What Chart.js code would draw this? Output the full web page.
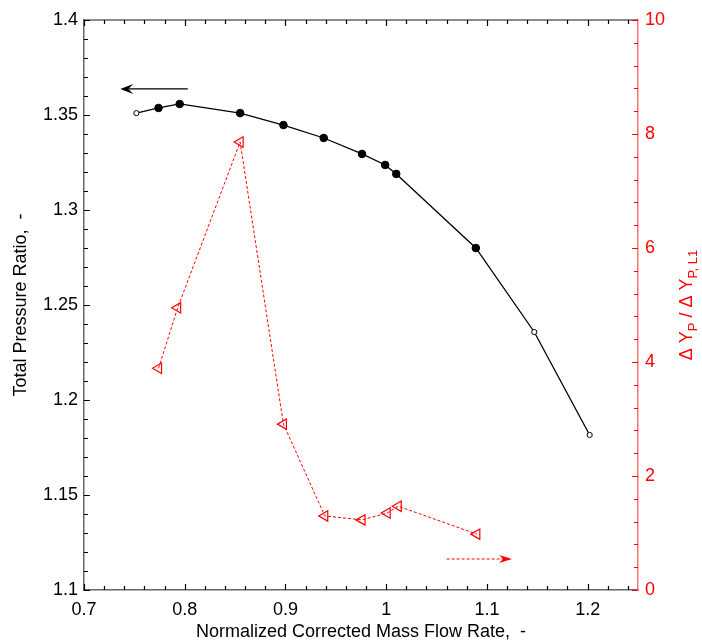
<!DOCTYPE html>
<html>
<head>
<meta charset="utf-8">
<script src="https://cdn.jsdelivr.net/npm/chart.js@4.4.0/dist/chart.umd.min.js"></script>
<style>
  html, body { margin: 0; padding: 0; background: #fff; }
  #wrap { position: relative; width: 702px; height: 643px; }
</style>
</head>
<body>
<div id="wrap"><canvas id="chart" width="702" height="643"></canvas></div>
<script>
// pressure ratio line (left axis)
const massFlow = [0.752, 0.774, 0.795, 0.855, 0.898, 0.938, 0.976, 0.999, 1.010, 1.089, 1.147, 1.202];
const pressureRatio = [1.351, 1.3537, 1.3558, 1.351, 1.3447, 1.3379, 1.3295, 1.3237, 1.319, 1.280, 1.2358, 1.1816];
const openMarker = [true, false, false, false, false, false, false, false, false, false, true, true];

// loss ratio line (right axis)
const lossFlow = [0.774, 0.793, 0.855, 0.898, 0.939, 0.976, 1.001, 1.012, 1.090];
const lossRatio = [3.89, 4.95, 7.86, 2.91, 1.30, 1.23, 1.35, 1.47, 0.98];

// axis ticks
const xTicks = [0.7, 0.8, 0.9, 1, 1.1, 1.2];
const yTicks = [1.1, 1.15, 1.2, 1.25, 1.3, 1.35, 1.4];
const y2Ticks = [0, 2, 4, 6, 8, 10];

// direction arrows, in data units
const leftArrow = { from: 0.803, to: 0.736, y: 1.3637 };
const rightArrow = { from: 1.060, to: 1.125, y: 0.544 };

const FONT = "'Liberation Sans', Arial, sans-serif";
const RED = '#ff0000';

const tickMarks = {
  id: 'tickMarks',
  afterDraw(chart) {
    const { ctx, chartArea: a, scales } = chart;
    const sx = scales.x, sy = scales.y, sy2 = scales.y2;
    ctx.save();

    // top frame line
    ctx.strokeStyle = '#666';
    ctx.lineWidth = 1.5;
    ctx.beginPath();
    ctx.moveTo(a.left, a.top);
    ctx.lineTo(a.right, a.top);
    ctx.stroke();

    // inward ticks, minor every fifth of a step
    ctx.lineWidth = 1.2;
    ctx.strokeStyle = '#000';
    ctx.beginPath();
    for (let i = 0; i <= 27; i++) {
      const px = Math.round(sx.getPixelForValue(0.7 + i * 0.02)) + 0.5;
      const len = i % 5 === 0 ? 6 : 4;
      ctx.moveTo(px, a.bottom);
      ctx.lineTo(px, a.bottom - len);
      ctx.moveTo(px, a.top);
      ctx.lineTo(px, a.top + len);
    }
    for (let i = 0; i <= 30; i++) {
      const py = Math.round(sy.getPixelForValue(1.1 + i * 0.01)) + 0.5;
      const len = i % 5 === 0 ? 6 : 4;
      ctx.moveTo(a.left, py);
      ctx.lineTo(a.left + len, py);
    }
    ctx.stroke();

    ctx.strokeStyle = RED;
    ctx.beginPath();
    for (let i = 0; i <= 25; i++) {
      const py = Math.round(sy2.getPixelForValue(i * 0.4)) + 0.5;
      const len = i % 5 === 0 ? 6 : 4;
      ctx.moveTo(a.right, py);
      ctx.lineTo(a.right - len, py);
    }
    ctx.stroke();

    // black arrow pointing to the left axis
    const ly = sy.getPixelForValue(leftArrow.y);
    const lx0 = sx.getPixelForValue(leftArrow.from);
    const lx1 = sx.getPixelForValue(leftArrow.to);
    ctx.strokeStyle = '#000';
    ctx.fillStyle = '#000';
    ctx.lineWidth = 1.3;
    ctx.beginPath();
    ctx.moveTo(lx0, ly);
    ctx.lineTo(lx1 + 6, ly);
    ctx.stroke();
    ctx.beginPath();
    ctx.moveTo(lx1, ly);
    ctx.lineTo(lx1 + 13, ly - 5);
    ctx.lineTo(lx1 + 8, ly);
    ctx.lineTo(lx1 + 13, ly + 5);
    ctx.closePath();
    ctx.fill();

    // red dashed arrow pointing to the right axis
    const ry = sy2.getPixelForValue(rightArrow.y);
    const rx0 = sx.getPixelForValue(rightArrow.from);
    const rx1 = sx.getPixelForValue(rightArrow.to);
    ctx.strokeStyle = RED;
    ctx.fillStyle = RED;
    ctx.lineWidth = 1;
    ctx.setLineDash([3, 2]);
    ctx.beginPath();
    ctx.moveTo(rx0, ry);
    ctx.lineTo(rx1 - 6, ry);
    ctx.stroke();
    ctx.setLineDash([]);
    ctx.beginPath();
    ctx.moveTo(rx1, ry);
    ctx.lineTo(rx1 - 13, ry - 4);
    ctx.lineTo(rx1 - 9, ry);
    ctx.lineTo(rx1 - 13, ry + 4);
    ctx.closePath();
    ctx.fill();

    ctx.restore();
  }
};

// right axis title with subscripts, reading bottom to top
const rightTitle = {
  id: 'rightTitle',
  afterDraw(chart) {
    const { ctx, chartArea: a } = chart;
    const parts = [
      { t: '\u0394 Y', size: 18, dy: 0 },
      { t: 'P', size: 13, dy: 5 },
      { t: ' / \u0394 Y', size: 18, dy: 0 },
      { t: 'P, L1', size: 13, dy: 5 }
    ];
    ctx.save();
    let total = 0;
    parts.forEach(p => {
      ctx.font = `${p.size}px ${FONT}`;
      p.w = ctx.measureText(p.t).width;
      total += p.w;
    });
    ctx.translate(692, (a.top + a.bottom) / 2);
    ctx.rotate(-Math.PI / 2);
    ctx.fillStyle = RED;
    ctx.textBaseline = 'alphabetic';
    let x = -total / 2;
    parts.forEach(p => {
      ctx.font = `${p.size}px ${FONT}`;
      ctx.fillText(p.t, x, p.dy);
      x += p.w;
    });
    ctx.restore();
  }
};

const fmt = v => String(Math.round(v * 1000) / 1000);

new Chart(document.getElementById('chart').getContext('2d'), {
  type: 'line',
  data: {
    datasets: [
      {
        label: 'Total Pressure Ratio',
        data: massFlow.map((x, i) => ({ x, y: pressureRatio[i] })),
        yAxisID: 'y',
        borderColor: '#000',
        borderWidth: 1.3,
        pointStyle: 'circle',
        pointRadius: openMarker.map(o => (o ? 2.6 : 3.8)),
        pointBackgroundColor: openMarker.map(o => (o ? '#fff' : '#000')),
        pointBorderColor: '#000',
        pointBorderWidth: 1,
        tension: 0,
        fill: false
      },
      {
        label: 'Loss Ratio',
        data: lossFlow.map((x, i) => ({ x, y: lossRatio[i] })),
        yAxisID: 'y2',
        borderColor: RED,
        borderWidth: 1,
        borderDash: [3, 2],
        pointStyle: 'triangle',
        pointRotation: -90,
        pointRadius: 6,
        pointBackgroundColor: 'rgba(255,255,255,0)',
        pointBorderColor: RED,
        pointBorderWidth: 1.2,
        tension: 0,
        fill: false
      }
    ]
  },
  options: {
    responsive: false,
    animation: false,
    events: [],
    layout: { padding: { top: 20, left: 0, right: 0, bottom: 0 } },
    plugins: { legend: { display: false }, tooltip: { enabled: false } },
    scales: {
      x: {
        type: 'linear',
        min: 0.7,
        max: 1.25,
        afterBuildTicks: s => { s.ticks = xTicks.map(value => ({ value })); },
        afterFit: s => { s.height = 53; },
        grid: { display: true, drawOnChartArea: false, drawTicks: false },
        border: { display: true, color: '#666', width: 1.5 },
        ticks: { color: '#000', font: { family: FONT, size: 18 }, padding: 9, maxRotation: 0, callback: fmt },
        title: {
          display: true,
          text: 'Normalized Corrected Mass Flow Rate,  -',
          color: '#000',
          font: { family: FONT, size: 18 },
          padding: { top: 0, bottom: 0 }
        }
      },
      y: {
        type: 'linear',
        position: 'left',
        min: 1.1,
        max: 1.4,
        afterBuildTicks: s => { s.ticks = yTicks.map(value => ({ value })); },
        afterFit: s => { s.width = 84; },
        grid: { display: true, drawOnChartArea: false, drawTicks: false },
        border: { display: true, color: '#666', width: 1.5 },
        ticks: { color: '#000', font: { family: FONT, size: 18 }, padding: 6, callback: fmt },
        title: {
          display: true,
          text: 'Total Pressure Ratio,  -',
          color: '#000',
          font: { family: FONT, size: 18 },
          padding: { top: 10, bottom: 0 }
        }
      },
      y2: {
        type: 'linear',
        position: 'right',
        min: 0,
        max: 10,
        afterBuildTicks: s => { s.ticks = y2Ticks.map(value => ({ value })); },
        afterFit: s => { s.width = 64; },
        grid: { display: true, drawOnChartArea: false, drawTicks: false },
        border: { display: true, color: '#ff7070', width: 1.5 },
        ticks: { color: RED, font: { family: FONT, size: 18 }, padding: 7, callback: fmt }
      }
    }
  },
  plugins: [tickMarks, rightTitle]
});
</script>
</body>
</html>
